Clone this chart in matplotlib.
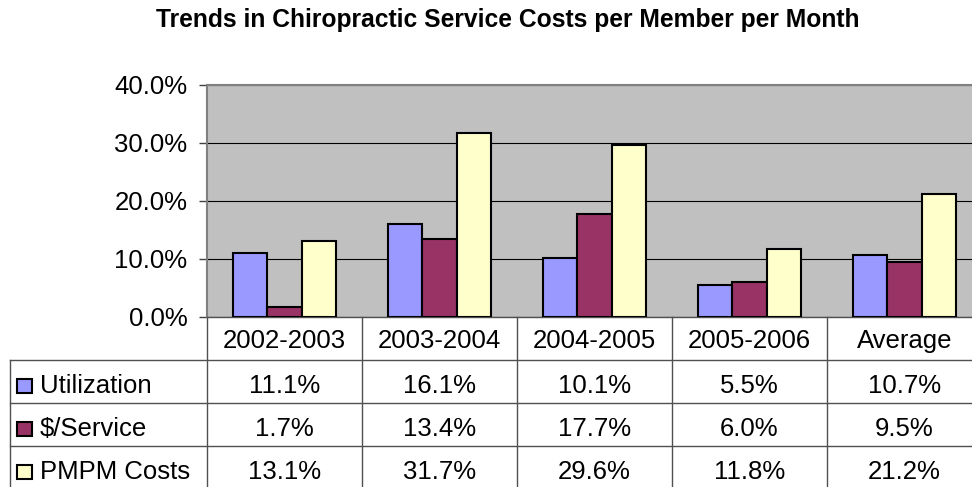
import matplotlib

matplotlib.use("Agg")
import matplotlib.pyplot as plt
import numpy as np

plt.rcParams["font.family"] = ["Liberation Sans", "DejaVu Sans"]

CATEGORIES = ["2002-2003", "2003-2004", "2004-2005", "2005-2006", "Average"]
SERIES = ["Utilization", "$/Service", "PMPM Costs"]
UTILIZATION = [11.1, 16.1, 10.1, 5.5, 10.7]
SERVICE = [1.7, 13.4, 17.7, 6.0, 9.5]
PMPM = [13.1, 31.7, 29.6, 11.8, 21.2]
COLORS = ["#9999FF", "#993366", "#FFFFCC"]
TITLE = "Trends in Chiropractic Service Costs per Member per Month"

W, H = 972, 487
FS = 18.5


def fx(px):
    return px / W


def fy(py):
    return (H - py) / H


fig = plt.figure(figsize=(W / 100, H / 100), dpi=100)

# plot area (runs past the right edge, as in the original)
left, right, top, bottom = 207, 982, 85, 317
ax = fig.add_axes([fx(left), fy(bottom), fx(right - left), (bottom - top) / H])
ax.set_facecolor("#C0C0C0")

values = [UTILIZATION, SERVICE, PMPM]
x = np.arange(len(CATEGORIES))
w = 1 / 4.5
for i, (vals, c) in enumerate(zip(values, COLORS)):
    ax.bar(x + (i - 1) * w, np.array(vals) / 100, w, color=c, edgecolor="black",
           linewidth=1.5, zorder=3)

ax.set_xlim(-0.5, len(CATEGORIES) - 0.5)
ax.set_ylim(0, 0.4)
ax.set_yticks([0, 0.1, 0.2, 0.3, 0.4])
ax.set_yticklabels([f"{v * 100:.1f}%" for v in ax.get_yticks()], fontsize=FS)
ax.yaxis.grid(True, color="black", linewidth=0.8, zorder=1)
ax.set_axisbelow(True)
ax.set_xticks([])
ax.tick_params(axis="y", length=6, width=1, color="#404040", pad=8)
for s in ["top", "left", "right"]:
    ax.spines[s].set_color("#808080")
    ax.spines[s].set_linewidth(1.5)
ax.spines["bottom"].set_color("#505050")
ax.spines["bottom"].set_linewidth(1)

# data table under the plot
tab = fig.add_axes([fx(left), fy(bottom + 4 * 43), fx(right - left), 4 * 43 / H])
tab.set_xlim(-0.5, len(CATEGORIES) - 0.5)
tab.set_ylim(4, 0)
tab.axis("off")
lc = "#505050"
legx = -0.5 - (left - 10) / 155
for k in range(len(CATEGORIES) + 1):
    tab.plot([k - 0.5, k - 0.5], [0, 4], color=lc, lw=1, clip_on=False)
tab.plot([legx, legx], [1, 4], color=lc, lw=1, clip_on=False)
for r in range(1, 4):
    tab.plot([legx, len(CATEGORIES) - 0.5], [r, r], color=lc, lw=1, clip_on=False)

for k, cat in enumerate(CATEGORIES):
    tab.text(k, 0.55, cat, ha="center", va="center", fontsize=FS)
for r, (name, vals, c) in enumerate(zip(SERIES, values, COLORS)):
    yr = r + 1.6
    tab.add_patch(plt.Rectangle((legx + 7 / 155, yr - 7 / 43), 15 / 155, 14 / 43,
                                facecolor=c, edgecolor="black", lw=1.5, clip_on=False))
    tab.text(legx + 30 / 155, yr, name, ha="left", va="center", fontsize=FS)
    for k, v in enumerate(vals):
        tab.text(k, yr, f"{v:.1f}%", ha="center", va="center", fontsize=FS)

fig.text(fx(508), fy(27), TITLE, ha="center", va="baseline", fontsize=17.7,
         fontweight="bold")

fig.savefig("out.png", dpi=100)
